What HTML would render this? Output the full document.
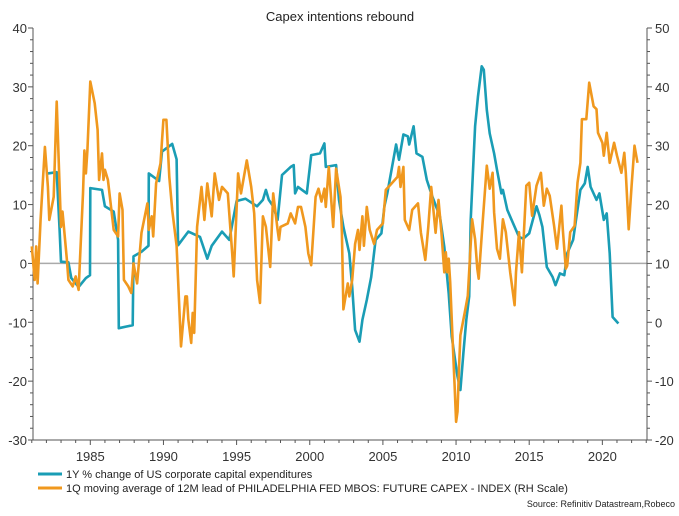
<!DOCTYPE html>
<html><head><meta charset="utf-8"><style>
body{margin:0;background:#fff;width:679px;height:511px;overflow:hidden;font-family:"Liberation Sans",Arial,sans-serif}
svg text{font-family:"Liberation Sans",Arial,sans-serif}
</style></head><body>
<svg id="chart" width="679" height="511"></svg>
<script>
const blueYears=[1982.1,1982.7,1982.9,1983.0,1983.5,1983.7,1984.2,1984.7,1984.98,1985.0,1985.8,1986.0,1986.6,1986.9,1986.95,1987.9,1987.95,1988.5,1988.98,1989.0,1989.7,1989.9,1990.6,1990.9,1991.0,1991.7,1992.5,1993.0,1993.3,1994.0,1994.5,1995.0,1995.6,1995.9,1996.4,1996.8,1997.0,1997.2,1997.5,1997.8,1998.1,1998.7,1998.9,1999.0,1999.2,1999.8,2000.1,2000.7,2001.0,2001.1,2001.8,2002.0,2002.3,2002.7,2002.9,2003.1,2003.4,2003.6,2003.9,2004.2,2004.5,2004.9,2005.1,2005.3,2005.9,2006.1,2006.4,2006.7,2006.8,2007.1,2007.3,2007.7,2008.0,2008.3,2008.9,2009.2,2009.5,2009.7,2010.1,2010.3,2010.5,2010.7,2010.9,2011.0,2011.3,2011.5,2011.75,2011.9,2012.1,2012.3,2012.6,2012.8,2013.1,2013.2,2013.5,2013.8,2014.3,2014.6,2015.0,2015.5,2015.7,2015.9,2016.2,2016.6,2016.8,2017.1,2017.4,2017.6,2018.0,2018.2,2018.5,2018.8,2019.0,2019.2,2019.6,2019.8,2020.1,2020.3,2020.5,2020.7,2021.1];
const blueValues=[15.3,15.5,5.7,0.3,0.2,-2.5,-4,-2.5,-2,12.8,12.5,9.7,8.8,4,-11,-10.5,1.2,2,3,15.3,14,19,20.3,17.7,3.1,5.4,4.5,0.8,3,5.4,4,10.6,11,10.5,9.7,10.8,12.5,10.8,9.7,7.4,15,16.4,16.7,11.9,13,11.9,18.4,18.7,20.4,16.4,16.7,10.8,6.2,1.7,-4,-11.3,-13.3,-9.6,-6.2,-2.3,4,5.1,9.7,11.9,20.2,17.6,21.9,21.6,20.2,23.3,18.7,18.1,14.2,11.9,7.9,2.8,-5.1,-12.4,-19.2,-21.5,-15.2,-9.6,-5.6,7.4,23.3,28.4,33.5,32.9,26.1,22.1,18.7,15.9,11.9,12.5,9.1,7.4,4.5,4.2,5.1,9.7,8.2,6.2,-0.6,-2.3,-3.7,-1.7,-2,1.7,4,7.4,12.5,13.6,16.4,13,10.8,11.9,7.4,8.5,1.7,-9.1,-10.2];
const orangeYears=[1981.0,1981.2,1981.3,1981.4,1981.6,1981.9,1982.1,1982.2,1982.5,1982.7,1982.85,1983.0,1983.1,1983.4,1983.5,1983.8,1984.0,1984.2,1984.5,1984.6,1984.7,1984.8,1985.0,1985.3,1985.5,1985.6,1985.8,1985.9,1986.0,1986.2,1986.6,1986.9,1987.0,1987.2,1987.3,1987.6,1987.8,1987.95,1988.2,1988.5,1988.9,1989.0,1989.2,1989.3,1989.5,1989.8,1990.0,1990.2,1990.3,1990.4,1990.6,1990.9,1991.2,1991.5,1991.6,1991.7,1991.9,1992.0,1992.1,1992.3,1992.6,1992.8,1993.0,1993.3,1993.5,1993.8,1994.0,1994.4,1994.7,1994.8,1995.1,1995.3,1995.7,1996.0,1996.2,1996.4,1996.6,1996.8,1997.0,1997.3,1997.5,1997.8,1997.9,1998.0,1998.5,1998.7,1999.0,1999.2,1999.4,1999.7,1999.9,2000.1,2000.4,2000.6,2000.8,2001.0,2001.1,2001.3,2001.6,2001.8,2002.1,2002.2,2002.3,2002.6,2002.7,2002.9,2003.1,2003.3,2003.4,2003.6,2003.7,2003.9,2004.1,2004.4,2004.6,2005.0,2005.2,2005.6,2006.0,2006.1,2006.2,2006.4,2006.5,2006.8,2007.0,2007.4,2007.6,2007.9,2008.1,2008.3,2008.6,2008.8,2009.0,2009.2,2009.3,2009.4,2009.5,2009.6,2009.75,2009.9,2010.0,2010.1,2010.2,2010.3,2010.6,2010.8,2011.1,2011.3,2011.45,2011.55,2011.8,2012.1,2012.3,2012.5,2012.6,2012.8,2013.0,2013.2,2013.4,2013.7,2014.0,2014.1,2014.3,2014.5,2014.8,2015.0,2015.2,2015.5,2015.8,2016.0,2016.2,2016.4,2016.7,2016.9,2017.2,2017.3,2017.5,2017.6,2017.8,2018.1,2018.3,2018.5,2018.6,2018.9,2019.1,2019.4,2019.6,2019.7,2020.0,2020.1,2020.3,2020.5,2020.8,2021.0,2021.3,2021.5,2021.6,2021.8,2022.0,2022.2,2022.4];
const orangeValues=[12.9,7.2,12.9,6.6,17.5,29.8,23,17.4,21.3,37.5,27,16.2,18.8,10.6,7.2,6.1,7.8,5.5,21.9,29.2,25.3,29.2,40.9,37.2,32.7,24.2,28.7,24.2,25.9,24.2,15.7,14.6,21.9,19.1,7.2,6.1,5,10,6.6,15.2,20.2,15.7,18,14.6,23.6,27,34.4,34.4,29.8,24.7,19.1,13,-4.1,4.4,4.4,0.5,-3.5,1.6,-1.8,16.2,23,17.4,23.6,18,25.3,20.8,23,21.9,11.7,7.8,25.3,21.9,27.5,23,18.5,7.2,3.3,18,16.2,9.4,21.9,15.7,14,16.2,16.8,18.5,16.8,19.6,19.6,16.2,11.7,9.7,21.3,22.7,20.5,22.7,19.6,26.4,16.2,26.1,21.3,15.2,2.2,6.6,4.4,7.2,13.3,15.7,12.3,18,13,19.6,15.7,13.3,15.7,16.8,22.5,23.6,24.7,26.4,23,26.4,17.4,15.7,19.1,20.2,15.2,10.6,16.2,23,15.2,20.8,15.3,8.5,11.9,8.5,10.8,6.8,-2.2,-10.7,-16.9,-15.2,-7.8,-2.2,1.7,4.5,17.5,14.1,9.1,7.4,16.4,26.6,22.7,25.4,18.7,12.5,10.8,17.5,15.3,8.5,2.9,8.5,15.3,8.5,23.2,23.7,18.1,23.2,25.4,19.8,22.7,21.5,16.4,12.5,19.8,15.8,9.1,9.6,15.3,16.4,23.7,27.1,34.5,34.5,40.7,36.7,36.2,32.2,30.5,28.3,32.2,27.1,30.5,28.3,25.4,28.8,25.4,15.8,23.2,30,27.1];
const leftTicks=[40,30,20,10,0,-10,-20,-30];
const rightTicks=[50,40,30,20,10,0,-10,-20];
const yearTicks=[1985,1990,1995,2000,2005,2010,2015,2020];

const NS='http://www.w3.org/2000/svg';
const svg=document.getElementById('chart');
const X0=33,X1=647,Y0=28,Y1=440;
function xs(y){return 90.3+(y-1985)*14.63;}
function yl(v){return Y1-(v+30)/70*(Y1-Y0);}
function yr(v){return Y1-(v+20)/70*(Y1-Y0);}
function mk(t,a){const e=document.createElementNS(NS,t);for(const k in a)e.setAttribute(k,a[k]);svg.appendChild(e);return e;}

let e;
e=mk('text',{x:340,y:21,'text-anchor':'middle','font-size':13,fill:'#222'});e.textContent='Capex intentions rebound';



e=mk('line',{x1:X0,y1:yl(0),x2:X1,y2:yl(0),stroke:'#aaa','stroke-width':1.5});



e=mk('line',{x1:X0,y1:Y0,x2:X0,y2:Y1,stroke:'#555','stroke-width':1});


e=mk('line',{x1:X1,y1:Y0,x2:X1,y2:Y1,stroke:'#555','stroke-width':1});


e=mk('line',{x1:X0,y1:Y1,x2:X1,y2:Y1,stroke:'#555','stroke-width':1});



for(let v=-30;v<=40;v+=2){
  const big=v%10===0;
  mk('line',{x1:X0-(big?5:3),y1:yl(v),x2:X0,y2:yl(v),stroke:'#555'});
}
for(let v=-20;v<=50;v+=2){
  const big=v%10===0;
  mk('line',{x1:X1,y1:yr(v),x2:X1+(big?5:3),y2:yr(v),stroke:'#555'});
}
leftTicks.forEach(v=>{
  const t=mk('text',{x:27,y:yl(v)+5,'text-anchor':'end','font-size':13,fill:'#333'});t.textContent=v;
  
  
});
rightTicks.forEach(v=>{
  const t=mk('text',{x:655,y:yr(v)+5,'font-size':13,fill:'#333'});t.textContent=v;
  
  
});
for(let y=1981;y<=2023;y++){
  const big=y%5===0;
  mk('line',{x1:xs(y),y1:Y1,x2:xs(y),y2:Y1+(big?5:3),stroke:'#555'});
}
yearTicks.forEach(y=>{
  const t=mk('text',{x:xs(y),y:461,'text-anchor':'middle','font-size':13,fill:'#333'});t.textContent=y;
  
  
});

function path(xsArr,vals,scale){return xsArr.map((y,i)=>(i?'L':'M')+xs(y).toFixed(1)+' '+scale(vals[i]).toFixed(1)).join(' ');}
e=mk('path',{d:path(blueYears,blueValues,yl),fill:'none',stroke:'#1a9db5','stroke-width':2.6,'stroke-linejoin':'round'});


e=mk('path',{d:path(orangeYears,orangeValues,yr),fill:'none',stroke:'#f0981e','stroke-width':2.6,'stroke-linejoin':'round'});



e=mk('line',{x1:38,y1:474,x2:62,y2:474,stroke:'#1a9db5','stroke-width':3});


e=mk('text',{x:66,y:478,'font-size':11,fill:'#222'});e.textContent='1Y % change of US corporate capital expenditures';


e=mk('line',{x1:38,y1:488,x2:62,y2:488,stroke:'#f0981e','stroke-width':3});


e=mk('text',{x:66,y:492,'font-size':11,fill:'#222'});e.textContent='1Q moving average of 12M lead of PHILADELPHIA FED MBOS: FUTURE CAPEX - INDEX (RH Scale)';


e=mk('text',{x:675,y:507,'text-anchor':'end','font-size':9,fill:'#222'});e.textContent='Source: Refinitiv Datastream,Robeco';


</script>
</body></html>
